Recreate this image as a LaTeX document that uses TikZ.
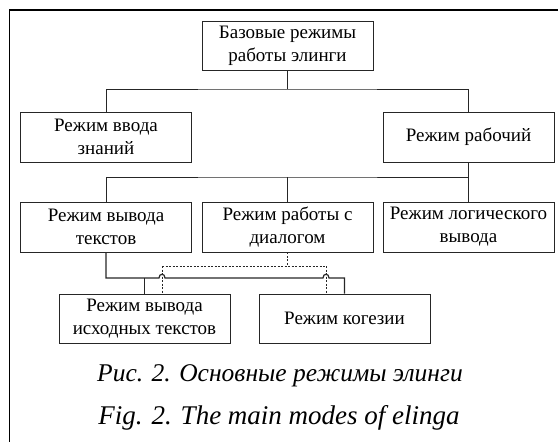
\documentclass[tikz,border=0pt]{standalone}
\usepackage{fontspec}
\setmainfont{Liberation Serif}
\begin{document}
\begin{tikzpicture}[x=1pt,y=-1pt,
  box/.style={draw=black!85,line width=0.8pt,minimum width=171pt,minimum height=49pt,
    inner sep=0pt,align=center,font=\fontsize{19}{23}\selectfont},
  conn/.style={draw=black!85,line width=0.9pt},
  dsh/.style={draw=black!85,line width=0.8pt,dash pattern=on 2pt off 1.5pt},
  captxt/.style={anchor=base,font=\fontsize{25.5}{30}\selectfont\itshape}]
\useasboundingbox (0,0) rectangle (558,442);
\draw[line width=1.4pt] (9.5,442) -- (9.5,10) -- (558,10);
% boxes
\node[box] (top) at (287.5,45.5) {Базовые режимы\\работы элинги};
\node[box,minimum height=50pt] (in) at (106,137) {Режим ввода\\знаний};
\node[box,minimum height=50pt] (work) at (468.5,137) {Режим рабочий};
\node[box,minimum height=50pt] (A) at (106,227) {Режим вывода\\текстов};
\node[box,minimum height=50pt] (B) at (287.5,227) {Режим работы с\\диалогом};
\node[box,minimum height=50pt] (C) at (468.5,227) {Режим логического\\вывода};
\node[box] (D) at (144.5,318.5) {Режим вывода\\исходных текстов};
\node[box] (E) at (344.5,318.5) {Режим когезии};
% captions
\node[captxt] (c1) at (280,381) {Рис. 2. Основные режимы элинги};
\node[captxt,font=\fontsize{27}{30}\selectfont\itshape] (c2) at (279,424) {Fig. 2. The main modes of elinga};
% level 1
\coordinate (h1) at (287.5,89);
\draw[conn] (top.south) -- (h1);
\draw[conn] (in.north) |- (h1) -| (work.north);
% level 2
\coordinate (h2) at (287.5,177);
\draw[conn] (work.south) -- (C.north);
\draw[conn] (A.north) |- (h2) -- (work.south |- h2);
\draw[conn] (B.north) -- (h2);
% solid lower links
\coordinate (s) at (106,278);
\draw[conn,line width=1.2pt] (A.south) -- (s) -- (159,278) .. controls (159,273) and (165,273) .. (165,278)
  -- (323,278) .. controls (323,273) and (329,273) .. (329,278) -- (E.north |- s) -- (E.north);
\draw[conn] (D.north |- s) -- (D.north);
% dashed links
\coordinate (dl) at (162,266);
\coordinate (dr) at (326,266);
\draw[dsh] (B.south) -- (B.south |- dl);
\draw[dsh] (dl) -- (dr);
\draw[dsh] (dl) -- (dl |- D.north);
\draw[dsh] (dr) -- (dr |- E.north);
\end{tikzpicture}
\end{document}
